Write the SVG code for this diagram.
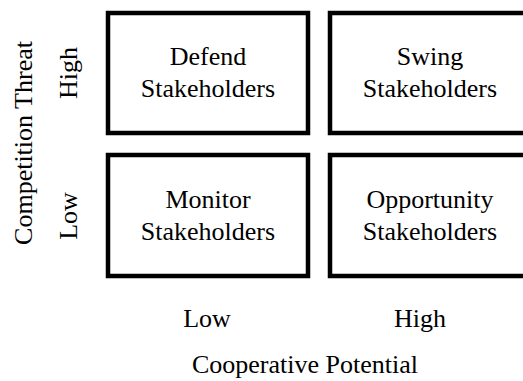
<svg xmlns="http://www.w3.org/2000/svg" width="523" height="381" viewBox="0 0 523 381">
  <style>
    .box { fill: #ffffff; stroke: #000000; stroke-width: 4.5; }
    .t { font-family: "Liberation Serif", "Times New Roman", serif; font-size: 26px; fill: #000000; text-anchor: middle; }
  </style>
  <rect width="523" height="381" fill="#ffffff"/>

  <!-- axis titles -->
  <text class="t" transform="translate(32,143) rotate(-90)">Competition Threat</text>
  <text class="t" x="305" y="373">Cooperative Potential</text>

  <!-- axis level labels -->
  <text class="t" transform="translate(77,73) rotate(-90)">High</text>
  <text class="t" transform="translate(77,216) rotate(-90)">Low</text>
  <text class="t" x="207" y="327">Low</text>
  <text class="t" x="420" y="327">High</text>

  <!-- quadrants -->
  <g id="defend">
    <rect class="box" x="108" y="13" width="200" height="120"/>
    <text class="t" x="208" y="65">Defend</text>
    <text class="t" x="208" y="97">Stakeholders</text>
  </g>
  <g id="swing">
    <rect class="box" x="330" y="13" width="200" height="120"/>
    <text class="t" x="430" y="65">Swing</text>
    <text class="t" x="430" y="97">Stakeholders</text>
  </g>
  <g id="monitor">
    <rect class="box" x="108" y="155" width="200" height="121"/>
    <text class="t" x="208" y="208">Monitor</text>
    <text class="t" x="208" y="240">Stakeholders</text>
  </g>
  <g id="opportunity">
    <rect class="box" x="330" y="155" width="200" height="121"/>
    <text class="t" x="430" y="208">Opportunity</text>
    <text class="t" x="430" y="240">Stakeholders</text>
  </g>

  <g id="connectors"/>
</svg>
